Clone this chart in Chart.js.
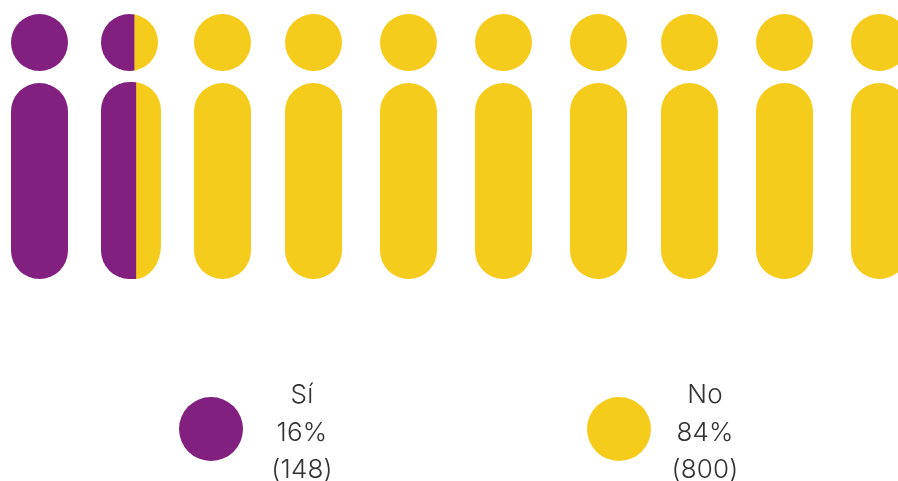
<!DOCTYPE html>
<html lang="es">
<head>
<meta charset="utf-8">
<title>Sí / No</title>
<script src="https://cdn.jsdelivr.net/npm/chart.js@4"></script>
<style>
  html, body { margin: 0; width: 898px; height: 481px; overflow: hidden; background: #fff; }
  #stage { position: relative; width: 898px; height: 481px; overflow: hidden; }
  .shape { position: absolute; }
  .legend-text {
    position: absolute; width: 160px; text-align: center;
    font-family: Inter, sans-serif; font-weight: 300; font-size: 26px;
    line-height: 37.5px; letter-spacing: 0.2px; color: #333;
  }
</style>
</head>
<body>
<div id="stage"></div>
<script>
// DATA: share of each of the ten figures that is Sí / No
const seriesNames = ["Sí", "No"];
const siShare = [1, 0.58, 0, 0, 0, 0, 0, 0, 0, 0];
const noShare = [0, 0.42, 1, 1, 1, 1, 1, 1, 1, 1];
const percents = ["16%", "84%"];
const counts = ["(148)", "(800)"];

// LAYOUT
const colors = ["#81207f", "#f5cb1c"];
const figureLeft = [11, 101, 194, 285, 380, 475, 570, 661, 756, 851];
const figureWidth = 57;
const headTop = 14, headHeight = 57;
const bodyTop = 83, bodyHeight = 196;
// the second figure's body is a little wider, sits 1px higher and has a longer lower right curve
const splitBodyWidth = 60, splitBodyTop = 82, splitBodyHeight = 197;
const splitBodyRadius = [28.5, 28.5, { x: 26, y: 34 }, 28.5];
const legendDotLeft = [179, 587];
const legendDotTop = 397, legendDotSize = 64;
const legendTextCenter = [302, 705];
const legendTextTop = 375;

const stage = document.getElementById("stage");

// clips the bars to the pictogram outline (circle or capsule)
const outlineClip = {
  id: "outlineClip",
  beforeDatasetsDraw(chart, args, opts) {
    const a = chart.chartArea;
    chart.ctx.save();
    chart.ctx.beginPath();
    chart.ctx.roundRect(a.left, a.top, a.right - a.left, a.bottom - a.top, opts.radius);
    chart.ctx.clip();
  },
  afterDatasetsDraw(chart) {
    chart.ctx.restore();
  },
};

function addShape(name, si, no, left, top, width, height, radius) {
  const canvas = document.createElement("canvas");
  canvas.className = "shape";
  canvas.width = width;
  canvas.height = height;
  canvas.style.left = left + "px";
  canvas.style.top = top + "px";
  canvas.style.width = width + "px";
  canvas.style.height = height + "px";
  stage.appendChild(canvas);

  new Chart(canvas, {
    type: "bar",
    plugins: [outlineClip],
    data: {
      labels: [name],
      datasets: [
        // a zero share stays out of the chart, otherwise it leaves a hairline at the edge
        { label: seriesNames[0], data: [si || null], backgroundColor: colors[0], borderWidth: 0, barPercentage: 1, categoryPercentage: 1 },
        { label: seriesNames[1], data: [no || null], backgroundColor: colors[1], borderWidth: 0, barPercentage: 1, categoryPercentage: 1 },
      ],
    },
    options: {
      indexAxis: "y",
      responsive: false,
      animation: false,
      events: [],
      layout: { padding: 0 },
      scales: {
        x: { stacked: true, display: false, min: 0, max: 1 },
        y: { stacked: true, display: false },
      },
      plugins: {
        legend: { display: false },
        tooltip: { enabled: false },
        outlineClip: { radius: radius },
      },
    },
  });
}

figureLeft.forEach((left, i) => {
  const name = "Figura " + (i + 1);
  const split = siShare[i] > 0 && noShare[i] > 0;
  addShape(name + " cabeza", siShare[i], noShare[i], left, headTop, figureWidth, headHeight, figureWidth / 2);
  if (split) {
    addShape(name + " cuerpo", siShare[i], noShare[i], left, splitBodyTop, splitBodyWidth, splitBodyHeight, splitBodyRadius);
  } else {
    addShape(name + " cuerpo", siShare[i], noShare[i], left, bodyTop, figureWidth, bodyHeight, figureWidth / 2);
  }
});

// legend: a dot and three centred lines per series
seriesNames.forEach((name, i) => {
  addShape(name, i === 0 ? 1 : 0, i === 1 ? 1 : 0, legendDotLeft[i], legendDotTop, legendDotSize, legendDotSize, legendDotSize / 2);
  const text = document.createElement("div");
  text.className = "legend-text";
  text.style.left = legendTextCenter[i] - 80 + "px";
  text.style.top = legendTextTop + "px";
  text.innerHTML = name + "<br>" + percents[i] + "<br>" + counts[i];
  stage.appendChild(text);
});
</script>
</body>
</html>
